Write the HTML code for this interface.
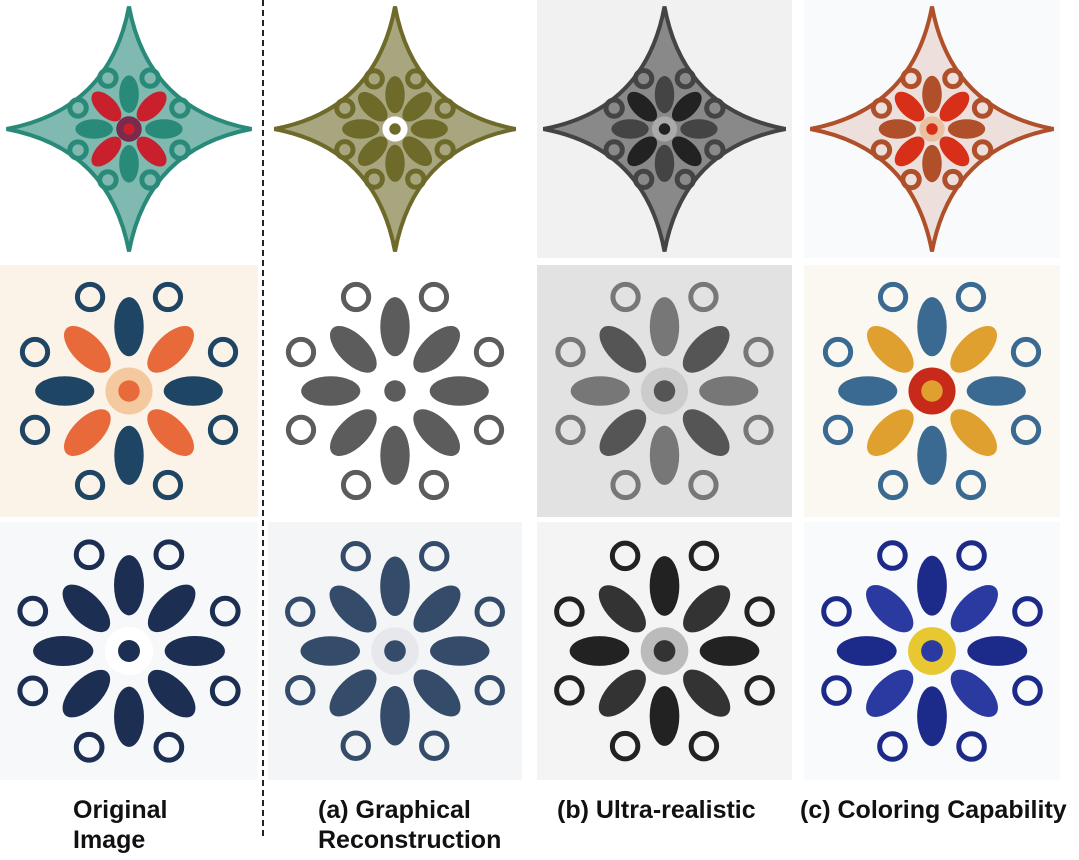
<!DOCTYPE html>
<html><head><meta charset="utf-8"><style>
body{margin:0;background:#fff;width:1079px;height:860px;overflow:hidden;font-family:"Liberation Sans",Arial,sans-serif}
.lbl{position:absolute;font-weight:bold;font-size:25px;line-height:30px;color:#111}
</style></head><body>
<svg id="s" width="1079" height="790" style="position:absolute;left:0;top:0"></svg>
<div style="position:absolute;left:262px;top:0;height:836px;border-left:2px dashed #222"></div>
<div class="lbl" style="left:73px;top:795px">Original<br>Image</div>
<div class="lbl" style="left:318px;top:795px">(a) Graphical<br>Reconstruction</div>
<div class="lbl" style="left:557px;top:795px">(b) Ultra-realistic</div>
<div class="lbl" style="left:800px;top:795px">(c) Coloring Capability</div>
<script>
const cols=[[0,258],[268,522],[537,792],[804,1060]];
const rows=[[0,258],[265,517],[522,780]];
const bgs=[["#fff","#fff","#f1f1f1","#f8fafc"],["#fbf2e8","#fff","#e2e2e2","#faf8f0"],["#f7f8f9","#f4f5f6","#f4f4f4","#f9fafc"]];
const pal=[[["#2a8a7a","#c8202c","#7a2a4a"],["#6e6a2a","#6e6a2a","#fff"],["#444","#222","#aaa"],["#b0502a","#d83018","#e9c0a0"]],
[["#1f4564","#e86a3a","#f4c9a0"],["#5c5c5c","#5c5c5c","#fff"],["#777","#555","#ccc"],["#3a6a92","#e0a030","#c82a1a"]],
[["#1c2e52","#1c2e52","#fff"],["#344c6a","#344c6a","#e6e8ec"],["#222","#333","#bbb"],["#1c2a8a","#2a3aa0","#e8c830"]]];
const s=document.getElementById('s');const NS="http://www.w3.org/2000/svg";
function el(t,a,p){const e=document.createElementNS(NS,t);for(const k in a)e.setAttribute(k,a[k]);(p||s).appendChild(e);return e;}
rows.forEach((r,ri)=>cols.forEach((c,ci)=>{
 const g=el('g',{});
 
 
 el('rect',{x:c[0],y:r[0],width:c[1]-c[0],height:r[1]-r[0],fill:bgs[ri][ci]},g);
 const cx=(c[0]+c[1])/2,cy=(r[0]+r[1])/2,w=(c[1]-c[0])/2,h=(r[1]-r[0])/2;const p=pal[ri][ci];
 const diamond=ri==0;
 if(diamond){
  const d=`M${cx} ${cy-h*0.95} Q${cx+w*0.15} ${cy-h*0.15} ${cx+w*0.95} ${cy} Q${cx+w*0.15} ${cy+h*0.15} ${cx} ${cy+h*0.95} Q${cx-w*0.15} ${cy+h*0.15} ${cx-w*0.95} ${cy} Q${cx-w*0.15} ${cy-h*0.15} ${cx} ${cy-h*0.95}Z`;
  el('path',{d:d,fill:p[0],opacity:ci==3?0.15:0.6},g);
  el('path',{d:d,fill:'none',stroke:p[0],'stroke-width':4},g);
 }
 const rad=diamond?0.45:0.85;
 for(let k=0;k<8;k++){
  const a=k*Math.PI/4;const R=(k%2?0.55:0.6)*Math.min(w,h)*rad;
  el('ellipse',{cx:cx+Math.cos(a)*R,cy:cy+Math.sin(a)*R,rx:Math.min(w,h)*0.22*rad+6,ry:Math.min(w,h)*0.1*rad+4,transform:`rotate(${k*45} ${cx+Math.cos(a)*R} ${cy+Math.sin(a)*R})`,fill:k%2?p[1]:p[0]},g);
  const R2=Math.min(w,h)*rad*0.95;
  el('circle',{cx:cx+Math.cos(a+Math.PI/8)*R2,cy:cy+Math.sin(a+Math.PI/8)*R2,r:Math.min(w,h)*0.09*rad+3,fill:'none',stroke:p[0],'stroke-width':5},g);
 }
 el('circle',{cx:cx,cy:cy,r:Math.min(w,h)*0.22*rad,fill:p[2]},g);
 el('circle',{cx:cx,cy:cy,r:Math.min(w,h)*0.1*rad,fill:p[1]},g);
}));
</script>
</body></html>
